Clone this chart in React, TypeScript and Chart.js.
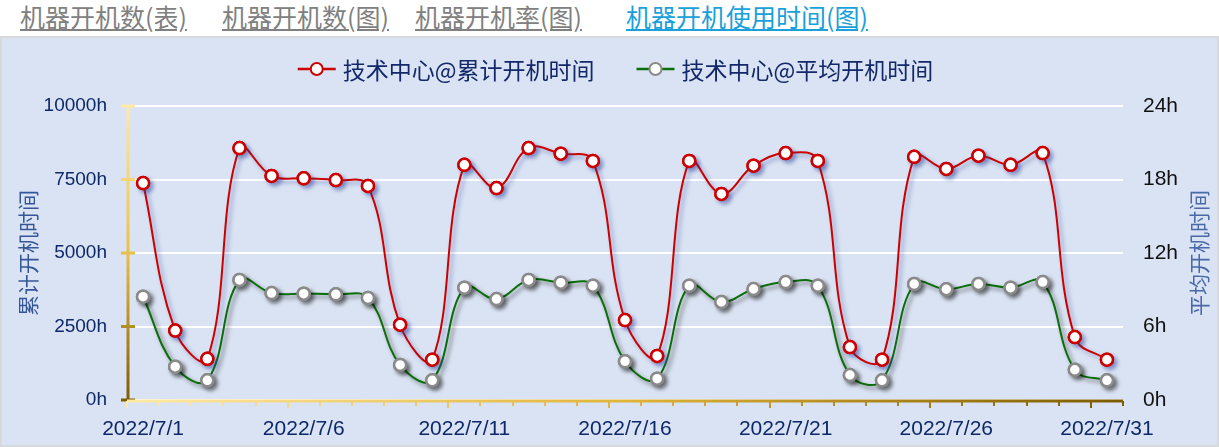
import { useEffect, useRef } from 'react';
import { Chart, registerables } from 'chart.js';

Chart.register(...registerables);

const dayLabels = [
  '2022/7/1', '2022/7/2', '2022/7/3', '2022/7/4', '2022/7/5', '2022/7/6', '2022/7/7', '2022/7/8',
  '2022/7/9', '2022/7/10', '2022/7/11', '2022/7/12', '2022/7/13', '2022/7/14', '2022/7/15', '2022/7/16',
  '2022/7/17', '2022/7/18', '2022/7/19', '2022/7/20', '2022/7/21', '2022/7/22', '2022/7/23', '2022/7/24',
  '2022/7/25', '2022/7/26', '2022/7/27', '2022/7/28', '2022/7/29', '2022/7/30', '2022/7/31',
];

// 累计开机时间 (h)
const totalHours = [
  7380, 2360, 1400, 8570, 7620, 7540, 7480, 7280, 2560, 1370, 8000, 7210, 8570, 8380, 8130, 2720,
  1500, 8130, 7010, 7970, 8400, 8130, 1800, 1370, 8270, 7860, 8310, 8000, 8400, 2140, 1370,
];

// 平均开机时间 (h)
const avgHours = [
  8.43, 2.72, 1.61, 9.8, 8.73, 8.68, 8.63, 8.33, 2.86, 1.61, 9.17, 8.24, 9.8, 9.58, 9.33, 3.16,
  1.74, 9.33, 8.0, 9.06, 9.63, 9.33, 2.04, 1.61, 9.47, 9.04, 9.47, 9.17, 9.63, 2.47, 1.61,
];

const seriesNames = ['技术中心@累计开机时间', '技术中心@平均开机时间'];
const axisTitles = ['累计开机时间', '平均开机时间'];
const tabNames = ['机器开机数(表)', '机器开机数(图)', '机器开机率(图)', '机器开机使用时间(图)'];
const tabLefts = [20, 222, 415, 626];

const CJK = '"Noto Sans CJK SC", "Noto Sans", sans-serif';
const NUM = '"Liberation Sans", Arial, sans-serif';

// Drop shadows under each series' line and markers; markers are redrawn
// afterwards without shadow so their white centres stay clean.
const shadowPlugin = {
  id: 'seriesShadow',
  beforeDatasetDraw(chart: any, args: any) {
    const ctx = chart.ctx;
    ctx.save();
    ctx.shadowColor = args.index === 0 ? 'rgba(40,60,150,0.45)' : 'rgba(0,0,0,0.5)';
    ctx.shadowBlur = 4;
    ctx.shadowOffsetX = 3;
    ctx.shadowOffsetY = 3;
  },
  afterDatasetDraw(chart: any, args: any) {
    const ctx = chart.ctx;
    ctx.restore();
    const meta = chart.getDatasetMeta(args.index);
    meta.data.forEach((pt: any) => pt.draw(ctx, chart.chartArea));
  },
};

// Gradient axis lines with tick marks
const axesPlugin = {
  id: 'gradientAxes',
  beforeDatasetsDraw(chart: any) {
    const { ctx, chartArea } = chart;
    const { left, right, top, bottom } = chartArea;
    const yScale = chart.scales.y;
    const xScale = chart.scales.x;
    ctx.save();

    const vGrad = ctx.createLinearGradient(0, top, 0, bottom);
    vGrad.addColorStop(0, '#ffe9a6');
    vGrad.addColorStop(0.5, '#e9c04a');
    vGrad.addColorStop(1, '#7d5c00');
    ctx.strokeStyle = vGrad;
    ctx.lineWidth = 3;
    ctx.beginPath();
    ctx.moveTo(left + 1, top);
    ctx.lineTo(left + 1, bottom + 1);
    ctx.stroke();
    yScale.ticks.forEach((t: any) => {
      const py = yScale.getPixelForValue(t.value);
      ctx.beginPath();
      ctx.moveTo(left - 6, py);
      ctx.lineTo(left + 8, py);
      ctx.stroke();
    });

    const hGrad = ctx.createLinearGradient(left, 0, right, 0);
    hGrad.addColorStop(0, '#ffe9a6');
    hGrad.addColorStop(0.5, '#e0b43a');
    hGrad.addColorStop(1, '#7d5c00');
    ctx.strokeStyle = hGrad;
    ctx.lineWidth = 3;
    ctx.beginPath();
    ctx.moveTo(left, bottom + 1);
    ctx.lineTo(right, bottom + 1);
    ctx.stroke();
    ctx.lineWidth = 2;
    const n = chart.data.labels.length;
    const step = (right - left) / n;
    for (let i = 0; i <= n; i++) {
      const px = Math.round(xScale.left + i * step);
      ctx.beginPath();
      ctx.moveTo(px, bottom + 1);
      ctx.lineTo(px, bottom + (i % 5 === 0 ? 8 : 6));
      ctx.stroke();
    }
    ctx.restore();
  },
};

// Axis titles and the line-with-marker legend
const textPlugin = {
  id: 'titlesLegend',
  afterDraw(chart: any) {
    const { ctx, chartArea } = chart;
    const midY = (chartArea.top + chartArea.bottom) / 2;
    ctx.save();
    ctx.font = `21px ${CJK}`;
    ctx.textAlign = 'center';
    ctx.textBaseline = 'middle';
    ctx.fillStyle = '#35579a';
    ctx.save();
    ctx.translate(26, midY);
    ctx.rotate(-Math.PI / 2);
    ctx.fillText(axisTitles[0], 0, 0);
    ctx.restore();
    ctx.fillStyle = '#4a69a8';
    ctx.save();
    ctx.translate(1197, midY);
    ctx.rotate(-Math.PI / 2);
    ctx.fillText(axisTitles[1], 0, 0);
    ctx.restore();

    ctx.font = `23px ${CJK}`;
    ctx.textAlign = 'left';
    const lineLen = 38;
    const gap = 7;
    const itemGap = 42;
    const items = chart.data.datasets.map((ds: any) => ({ ds, w: ctx.measureText(ds.label).width }));
    const total = items.reduce((s: number, it: any) => s + lineLen + gap + it.w, 0) + itemGap * (items.length - 1);
    let x = chart.width / 2 - total / 2 + 6;
    const y = 31;
    items.forEach((it: any) => {
      ctx.strokeStyle = it.ds.borderColor;
      ctx.lineWidth = 2.5;
      ctx.beginPath();
      ctx.moveTo(x, y);
      ctx.lineTo(x + lineLen, y);
      ctx.stroke();
      ctx.beginPath();
      ctx.arc(x + lineLen / 2, y, 6, 0, Math.PI * 2);
      ctx.fillStyle = '#ffffff';
      ctx.fill();
      ctx.lineWidth = 2;
      ctx.strokeStyle = it.ds.pointBorderColor;
      ctx.stroke();
      ctx.fillStyle = '#13286a';
      ctx.fillText(it.ds.label, x + lineLen + gap, y + 1);
      x += lineLen + gap + it.w + itemGap;
    });
    ctx.restore();
  },
};

function UsageChart() {
  const canvasRef = useRef<HTMLCanvasElement | null>(null);

  useEffect(() => {
    if (!canvasRef.current) return;
    const chart = new Chart(canvasRef.current, {
      type: 'line',
      data: {
        labels: dayLabels,
        datasets: [
          {
            label: seriesNames[0],
            data: totalHours,
            yAxisID: 'y',
            borderColor: '#cc0000',
            borderWidth: 2,
            pointBackgroundColor: '#ffffff',
            pointBorderColor: '#cc0000',
            pointBorderWidth: 2.5,
            pointRadius: 6,
            tension: 0.4,
            clip: false as any,
          },
          {
            label: seriesNames[1],
            data: avgHours,
            yAxisID: 'y1',
            borderColor: '#0b6e0b',
            borderWidth: 2,
            pointBackgroundColor: '#ffffff',
            pointBorderColor: '#8a8a8a',
            pointBorderWidth: 2.5,
            pointRadius: 6,
            tension: 0.4,
            clip: false as any,
          },
        ],
      },
      options: {
        animation: false,
        responsive: false,
        maintainAspectRatio: false,
        layout: { padding: { top: 68, left: 0, right: 0, bottom: 0 } },
        plugins: {
          legend: { display: false },
          tooltip: { enabled: false },
        },
        scales: {
          x: {
            type: 'category',
            offset: true,
            grid: { display: false, drawTicks: false },
            border: { display: false },
            ticks: {
              autoSkip: false,
              maxRotation: 0,
              padding: 17,
              color: '#0d2868',
              font: { family: NUM, size: 21 },
              callback: (_v: any, i: number) => (i % 5 === 0 ? dayLabels[i] : ''),
            },
            afterFit: (s: any) => {
              s.height = 45;
            },
          },
          y: {
            position: 'left',
            min: 0,
            max: 10000,
            grid: { color: '#ffffff', lineWidth: 2, drawTicks: false },
            border: { display: false },
            ticks: {
              stepSize: 2500,
              padding: 20,
              color: '#0d2868',
              font: { family: NUM, size: 19 },
              callback: (v: any) => `${v}h`,
            },
            afterFit: (s: any) => {
              s.width = 125;
            },
          },
          y1: {
            position: 'right',
            min: 0,
            max: 24,
            grid: { display: false, drawTicks: false },
            border: { display: false },
            ticks: {
              stepSize: 6,
              padding: 20,
              color: '#111111',
              font: { family: NUM, size: 21 },
              callback: (v: any) => `${v}h`,
            },
            afterFit: (s: any) => {
              s.width = 94;
            },
          },
        },
      },
      plugins: [axesPlugin, shadowPlugin, textPlugin],
    });
    return () => chart.destroy();
  }, []);

  return (
    <canvas
      ref={canvasRef}
      width={1215}
      height={407}
      style={{ position: 'absolute', left: 0, top: 0, width: 1215, height: 407 }}
    />
  );
}

export default function App() {
  useEffect(() => {
    document.body.style.margin = '0';
  }, []);
  return (
    <div style={{ position: 'relative', width: 1219, height: 447, background: '#ffffff', overflow: 'hidden' }}>
      {tabNames.map((name, i) => (
        <span
          key={name}
          style={{
            position: 'absolute',
            left: tabLefts[i],
            top: 1,
            fontFamily: CJK,
            fontSize: 25,
            lineHeight: '31px',
            color: i === tabNames.length - 1 ? '#1aa0da' : '#808080',
            textDecoration: 'underline',
            whiteSpace: 'nowrap',
          }}
        >
          {name}
        </span>
      ))}
      <div
        style={{
          position: 'absolute',
          left: 0,
          top: 36,
          width: 1219,
          height: 411,
          boxSizing: 'border-box',
          border: '2px solid #d7d9dc',
          background: '#dae3f3',
        }}
      >
        <UsageChart />
      </div>
    </div>
  );
}
